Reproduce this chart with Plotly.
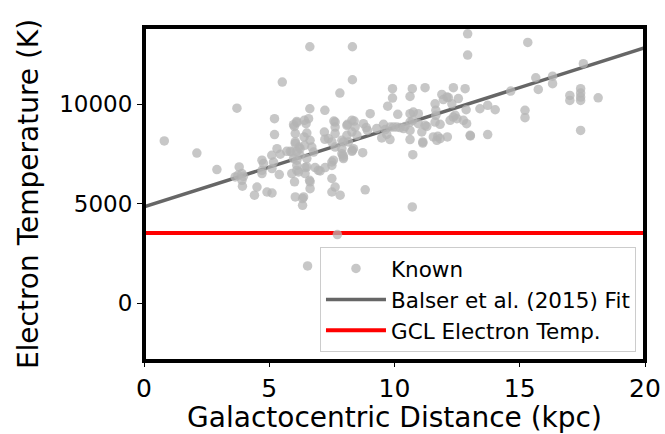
import plotly.graph_objects as go

# Known HII regions: galactocentric distance (kpc) and electron temperature (K)
r_known = [
    0.81, 2.11, 2.91, 3.71, 5.52, 6.62, 8.32, 8.32, 7.82, 5.21, 5.21, 7.72, 6.53, 10.71,
    3.80, 3.64, 3.75, 3.91, 3.97, 3.91, 3.93, 4.41, 4.51, 4.91, 5.11, 4.71, 4.77, 4.71, 4.71,
    5.10, 5.17, 5.11, 5.31, 5.44, 5.40,
    5.70, 5.84, 5.90, 5.97, 6.10, 6.47, 6.57, 6.50, 6.39, 6.04, 6.04, 6.19, 6.41, 6.63, 6.70,
    6.77, 6.50, 6.10, 5.97, 6.10, 6.17, 6.43, 5.90, 6.01, 6.61, 6.63, 6.37, 6.33, 6.04, 6.33,
    6.00, 6.10, 6.40, 6.62, 6.04, 6.23, 6.23, 6.10, 6.10, 6.50, 6.43, 6.63, 7.03, 6.83, 6.96,
    7.22, 7.20, 7.22, 7.58, 7.63, 7.63, 7.63, 7.36, 7.50, 7.63, 7.96, 8.10, 8.10, 7.90, 7.90,
    7.96, 7.56, 7.50, 7.23, 7.50, 7.50, 7.63, 7.50, 7.83, 7.94, 8.32, 8.30, 8.12, 8.39, 8.43,
    8.30, 8.50, 7.90, 8.16, 8.36, 8.30, 7.96, 8.73, 8.76, 8.87, 8.92, 8.83, 9.03,
    9.29, 9.56, 9.63, 9.69, 9.49, 9.82, 9.96, 10.22, 10.42, 10.62, 10.62, 10.73, 11.13, 11.09,
    11.29, 11.55, 11.69, 11.82, 12.11, 11.62, 11.62, 11.89, 11.95, 12.09, 12.35, 12.29, 12.55,
    12.82, 12.86, 12.42, 12.22, 12.75, 12.88, 13.02, 10.62, 10.75, 10.95, 10.73, 10.95, 9.92,
    9.92, 10.71, 10.62, 11.22, 9.73, 10.13, 12.15, 11.65, 11.65, 11.82, 11.73, 11.13, 10.62,
    9.83, 10.09, 10.36, 11.22, 12.35, 12.49,
    12.92, 12.92, 13.41, 13.72, 14.02, 13.72, 13.03, 14.64, 15.21, 15.21, 15.32, 15.64, 15.74,
    16.31, 16.31, 17.00, 17.00, 17.43, 17.43, 17.43, 17.43, 17.54, 18.13, 17.43,
]
te_known = [
    8160, 7550, 6720, 9810, 11120, 12900, 12900, 11240, 10570, 9280, 8480, 3450, 1870, 4840,
    6850, 6350, 6430, 6520, 6380, 6180, 5880, 5430, 5840, 5590, 5540, 7190, 7020, 6680, 6520,
    7440, 7100, 6770, 7770, 7490, 6470,
    7640, 7640, 7600, 8980, 9080, 9030, 9280, 8560, 8360, 8530, 8110, 7850, 7940, 8190, 7850,
    7600, 7270, 7640, 7270, 6930, 6600, 6820, 6520, 6100, 6180, 5760, 5340, 4920, 5340, 5260,
    8890, 9140, 9200, 9780, 8030, 7440, 7770, 7190, 6680, 6850, 6520, 6100, 6650, 6820, 6680,
    9700, 8610, 8240, 9160, 9110, 8860, 8530, 8280, 8110, 7850, 8110, 8940, 8440, 7770, 7520,
    7270, 7190, 6930, 6820, 7100, 6270, 5840, 5590, 5430, 7440, 7690, 9200, 8995, 9160, 8860,
    8610, 8440, 8190, 8110, 7770, 7640, 7350, 7570, 9030, 8830, 8690, 5700, 9530,
    8780, 8995, 8730, 8490, 8310, 8230, 8860, 8830, 8890, 8690, 8230, 7470, 8110, 8610,
    8890, 8360, 8190, 8280, 8360, 9110, 10030, 10500, 10240, 10370, 10840, 10030, 10290,
    10790, 9730, 9450, 9200, 9200, 9030, 8440, 9530, 9610, 9530, 9200, 9030, 10790,
    10320, 10790, 10400, 10840, 9910, 9500, 10340, 9700, 9450, 8995, 8390, 8055, 9110,
    8860, 8860, 8780, 8945, 9360, 9280,
    13550, 12480, 9780, 9950, 9730, 8480, 8410, 10670, 9700, 9330, 13115, 11340, 10750,
    11420, 11040, 10450, 10200, 10790, 10570, 10370, 10200, 12050, 10330, 8690,
]

# Balser et al. (2015) radial gradient fit, evaluated at the axis ends
fit_r = [0, 20]
fit_te = [4840, 12850]

# Electron temperature adopted for the GCL
gcl_r = [0, 20]
gcl_te = [3530, 3530]

x_ticks = [0, 5, 10, 15, 20]
y_ticks = [0, 5000, 10000]
y_tick_labels = ["0", "5000", "10000"]

FONT = "DejaVu Sans"

fig = go.Figure()
# lines first so the markers sit on top; legendrank keeps the legend order
fig.add_trace(go.Scatter(
    x=fit_r, y=fit_te, mode="lines", name="Balser et al. (2015) Fit",
    legendgroup="b", legendrank=2,
    line=dict(color="#666666", width=3.5),
))
fig.add_trace(go.Scatter(
    x=gcl_r, y=gcl_te, mode="lines", name="GCL Electron Temp.",
    legendgroup="c", legendrank=3,
    line=dict(color="#ff0000", width=4),
))
fig.add_trace(go.Scatter(
    x=r_known, y=te_known, mode="markers", name="Known",
    legendgroup="a", legendrank=1,
    marker=dict(size=9.5, color="rgba(180,180,180,0.75)", line=dict(width=0)),
))

fig.update_layout(
    width=665, height=434,
    margin=dict(l=143.7, r=20, t=26.5, b=73),
    paper_bgcolor="white", plot_bgcolor="white",
    font=dict(family=FONT, color="black"),
    showlegend=True,
    legend=dict(
        x=0.982, y=0.027, xanchor="right", yanchor="bottom",
        bgcolor="rgba(255,255,255,0.8)", bordercolor="#cccccc", borderwidth=1,
        font=dict(size=21.5, family=FONT, color="black"),
        itemwidth=60, tracegroupgap=0,
    ),
    shapes=[dict(
        type="rect", xref="paper", yref="paper", x0=0, x1=1, y0=0, y1=1,
        line=dict(color="black", width=4), layer="above",
    )],
)
fig.update_xaxes(
    range=[0, 20], tickvals=x_ticks, ticks="outside", ticklen=5, tickwidth=1,
    tickcolor="black", showgrid=False, zeroline=False, showline=False, automargin=False,
    tickfont=dict(size=25, family=FONT, color="black"),
    title=dict(text="Galactocentric Distance (kpc)", font=dict(size=28, family=FONT), standoff=4),
)
fig.update_yaxes(
    range=[-2915, 13894], tickvals=y_ticks, ticktext=y_tick_labels,
    ticks="outside", ticklen=6, tickwidth=1,
    tickcolor="black", showgrid=False, zeroline=False, showline=False, automargin=False,
    tickfont=dict(size=23, family=FONT, color="black"),
    title=dict(text="Electron Temperature (K)", font=dict(size=28, family=FONT), standoff=12),
)

fig.write_html("out.html")
